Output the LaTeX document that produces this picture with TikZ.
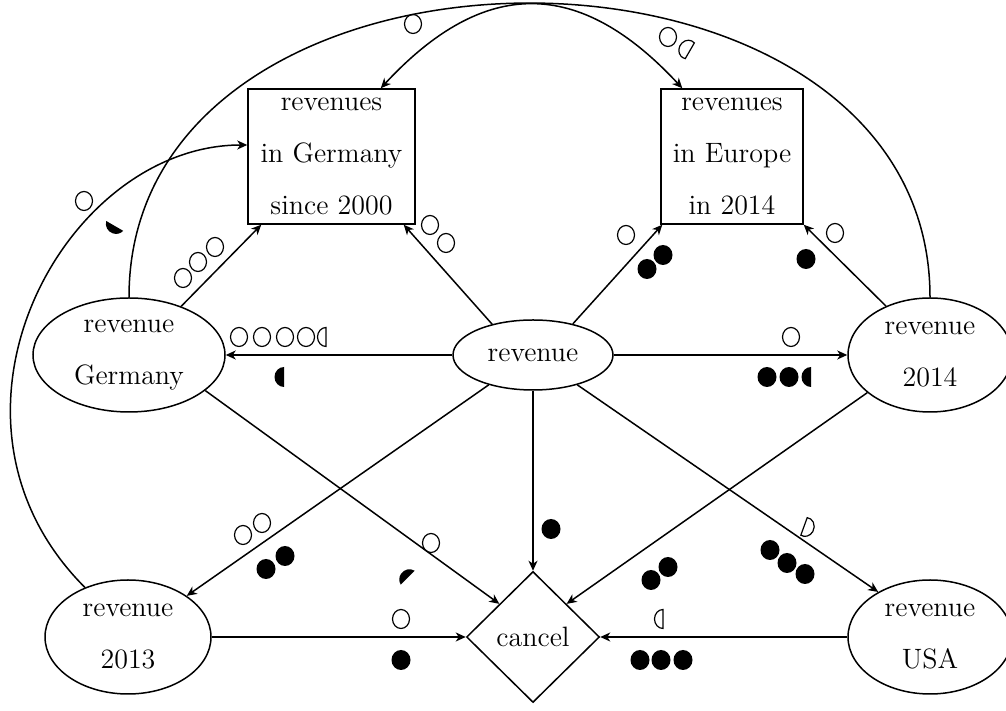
\documentclass[tikz,border=0pt]{standalone}
\usetikzlibrary{arrows.meta,shapes.geometric,calc}
\tikzset{
  tip/.tip={Stealth[length=5pt,width=4.5pt,inset=1.5pt]},
  pics/oball/.style={code={\draw[line width=0.6pt] (0,0) ellipse [x radius=8.5, y radius=9.5];}},
  pics/fball/.style={code={\fill (0,0) ellipse [x radius=9.5, y radius=10];}},
  % circular segment, round side facing #1, chord at #2 (in radii from the centre)
  pics/oseg/.style 2 args={code={%
    \pgfmathsetmacro\segt{acos(#2)}%
    \draw[line width=0.6pt, rotate=#1-180] (\segt:8.5 and 9.5)
      arc[start angle=\segt, end angle=360-\segt, x radius=8.5, y radius=9.5] -- cycle;}},
  pics/fseg/.style 2 args={code={%
    \pgfmathsetmacro\segt{acos(#2)}%
    \fill[rotate=#1-180] (\segt:9.5 and 10)
      arc[start angle=\segt, end angle=360-\segt, x radius=9.5, y radius=10] -- cycle;}},
}
\begin{document}
\begin{tikzpicture}[x=0.5pt,y=0.5pt,line width=0.75pt,
  lbl/.style={font=\fontsize{14pt}{26pt}\selectfont, align=center, inner sep=0pt},
  store/.style={lbl, draw, rectangle, minimum width=83.5pt, minimum height=67.5pt},
  var/.style={lbl, draw, ellipse, minimum height=57pt},
  test/.style={lbl, draw, diamond, minimum width=66.5pt, minimum height=65.5pt},
  arr/.style={-tip},
  biarr/.style={tip-tip}]
\useasboundingbox (0,0) rectangle (1006,711);
\fill[white] (0,0) rectangle (1006,711);

% nodes
\node[store] (boxG) at (331.5,554.5) {revenues\\in Germany\\since 2000};
\node[store, minimum width=71pt] (boxE) at (732,554.5) {revenues\\in Europe\\in 2014};
\node[var, minimum width=96pt] (elG) at (129,356) {revenue\\Germany};
\node[var, minimum width=80pt, minimum height=35pt] (rev) at (533,356) {revenue};
\node[var, minimum width=82pt] (el14) at (930,356) {revenue\\2014};
\node[var, minimum width=83pt] (el13) at (128,74) {revenue\\2013};
\node[var, minimum width=82pt] (elU) at (930,74) {revenue\\USA};
\node[test] (cancel) at (533,74) {cancel};

% connectors
\draw[arr] (rev) -- (elG);
\draw[arr] (rev) -- (el14);
\draw[arr] (rev.143) -- ($(boxG.south east)+(-12,0)$);
\draw[arr] (rev.38) -- ($(boxE.south west)+(2,0)$);
\draw[arr] (elG.43) -- ($(boxG.south west)+(14,0)$);
\draw[arr] (el14.132) -- (boxE.south east);
\draw[arr] (rev.214) -- (el13.35);
\draw[arr] (rev.326) -- (elU.139);
\draw[arr] (rev) -- (cancel);
\draw[arr] (elG.335) -- (cancel.north west);
\draw[arr] (el14.211) -- (cancel.north east);
\draw[arr] (el13) -- (cancel);
\draw[arr] (elU) -- (cancel);
\draw[arr] (el13.131) to[out=135,in=180,out looseness=1.3,in looseness=1] ($(boxG.west)+(0,11.5)$);
\draw (elG.north) .. controls (129,806) and (930,806) .. (el14.north);
\draw[biarr] ($(boxG.north east)+(-35,0)$) .. controls (484,734) and (579,734) .. ($(boxE.north west)+(22,0)$);

% ratings beside the connectors
\foreach \x in {239,262,285,306} \pic at (\x,374) {oball};
\pic at (326,374) {oseg={180}{0}};
\pic at (284,334) {fseg={180}{0}};
\pic at (791,374) {oball};
\pic at (767,334) {fball};
\pic at (789,334) {fball};
\pic at (811,334) {fseg={180}{0}};
\pic at (430,486) {oball};
\pic at (446,468) {oball};
\pic at (626,476) {oball};
\pic at (647,442) {fball};
\pic at (663,456) {fball};
\pic at (835,478) {oball};
\pic at (806,452) {fball};
\pic at (183,433) {oball};
\pic at (198,449) {oball};
\pic at (215,464) {oball};
\pic at (84,510) {oball};
\pic at (115.7,486.7) {fseg={240}{-0.2}};
\pic at (413,687) {oball};
\pic at (668,674) {oball};
\pic at (687.6,661.5) {oseg={150}{0.3}};
\pic at (243,176) {oball};
\pic at (262,188) {oball};
\pic at (266,142) {fball};
\pic at (285,155) {fball};
\pic at (431,168) {oball};
\pic at (409,132) {fseg={135}{-0.2}};
\pic at (805.6,184) {oseg={340}{0.2}};
\pic at (770,161) {fball};
\pic at (787,148) {fball};
\pic at (805,137) {fball};
\pic at (651,131) {fball};
\pic at (668,144) {fball};
\pic at (663,92) {oseg={180}{0}};
\foreach \x in {640,661,683} \pic at (\x,51) {fball};
\pic at (401,92) {oball};
\pic at (401,51) {fball};
\pic at (551,182) {fball};
\end{tikzpicture}
\end{document}
